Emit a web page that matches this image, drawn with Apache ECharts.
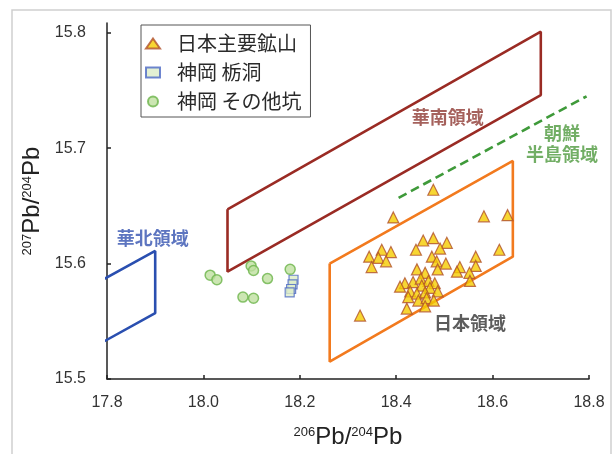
<!DOCTYPE html>
<html>
<head>
<meta charset="utf-8">
<script src="https://cdn.jsdelivr.net/npm/echarts@6/dist/echarts.min.js"></script>
<style>
	html, body { margin: 0; padding: 0; background: #fff; }
	#chart { width: 613px; height: 454px; }
</style>
</head>
<body>
<div id="chart"></div>
<script>
	// 日本主要鉱山 (x = 206Pb/204Pb, y = 207Pb/204Pb)
	var japanMines = [
		[18.477, 15.664], [18.394, 15.640], [18.582, 15.641], [18.631, 15.642],
		[18.456, 15.620], [18.477, 15.622], [18.505, 15.618], [18.441, 15.612],
		[18.491, 15.613], [18.370, 15.612], [18.389, 15.610], [18.344, 15.606],
		[18.363, 15.605], [18.379, 15.602], [18.349, 15.597], [18.474, 15.606],
		[18.614, 15.612], [18.565, 15.606], [18.484, 15.602], [18.503, 15.600],
		[18.565, 15.598], [18.486, 15.595], [18.443, 15.595], [18.532, 15.597],
		[18.526, 15.593], [18.460, 15.592], [18.552, 15.592], [18.553, 15.585],
		[18.418, 15.583], [18.408, 15.580], [18.435, 15.584], [18.451, 15.587],
		[18.467, 15.585], [18.480, 15.583], [18.453, 15.581], [18.470, 15.579],
		[18.429, 15.576], [18.443, 15.574], [18.460, 15.575], [18.486, 15.576],
		[18.425, 15.571], [18.446, 15.568], [18.463, 15.570], [18.478, 15.568],
		[18.422, 15.561], [18.460, 15.563], [18.325, 15.555]
	];
	// 神岡 栃洞
	var kamiokaTochibora = [
		[18.187, 15.586], [18.185, 15.582], [18.182, 15.578], [18.179, 15.575]
	];
	// 神岡 その他坑
	var kamiokaOther = [
		[18.014, 15.590], [18.028, 15.586], [18.099, 15.598], [18.104, 15.594],
		[18.133, 15.587], [18.180, 15.595], [18.082, 15.571], [18.104, 15.570]
	];

	// 領域の枠
	var northChina = [[17.70, 15.565], [17.90, 15.611], [17.90, 15.557], [17.70, 15.511]];
	var southChina = [[18.05, 15.647], [18.70, 15.801], [18.70, 15.746], [18.05, 15.593], [18.05, 15.647]];
	var japanField = [[18.262, 15.600], [18.642, 15.689], [18.642, 15.606], [18.262, 15.515], [18.262, 15.600]];
	var koreaLine = [[18.405, 15.657], [18.795, 15.745]];

	// 領域名
	var regionLabels = [
		{ name: '華北領域', value: [17.895, 15.622], color: '#3552b0' },
		{ name: '華南領域', value: [18.507, 15.727], color: '#8e3a33' },
		{ name: '朝鮮\n半島領域', value: [18.744, 15.704], color: '#4f9a3f' },
		{ name: '日本領域', value: [18.553, 15.548], color: '#333333' }
	];

	var xTicks = [17.8, 18.0, 18.2, 18.4, 18.6, 18.8];
	var yTicks = [15.5, 15.6, 15.7, 15.8];

	var cjk = '"Noto Sans CJK JP", "Noto Sans CJK SC", sans-serif';
	var latin = '"Liberation Sans", Arial, sans-serif';

	function outline(name, data, color, type){
		return {
			name: name,
			type: 'line',
			data: data,
			symbol: 'none',
			silent: true,
			clip: true,
			z: 1,
			lineStyle: { color: color, width: 2.6, type: type || 'solid' }
		};
	}

	function drawChart(){
		var chart = echarts.init(document.getElementById('chart'));
		chart.setOption({
			animation: false,
			backgroundColor: '#fff',
			graphic: [{
				type: 'rect',
				shape: { x: 12, y: 10, width: 599, height: 460 },
				style: { fill: 'none', stroke: '#cfcfcf', lineWidth: 1.5 },
				silent: true
			}],
			grid: { left: 107, right: 24, top: 23, bottom: 71 },
			legend: {
				orient: 'vertical',
				left: 141,
				top: 25,
				padding: [8, 9, 5, 4],
				itemGap: 8,
				itemWidth: 14,
				itemHeight: 10,
				borderColor: '#555',
				borderWidth: 1,
				backgroundColor: '#fff',
				textStyle: { fontFamily: cjk, fontSize: 20, color: '#2a2a2a', padding: [0, 0, 0, 12], lineHeight: 21 },
				data: ['日本主要鉱山', '神岡 栃洞', '神岡 その他坑']
			},
			xAxis: {
				type: 'value',
				min: 17.8,
				max: 18.8,
				interval: 0.2,
				splitLine: { show: false },
				axisLine: { lineStyle: { color: '#222', width: 1.5 } },
				axisTick: { inside: true, length: 4, customValues: xTicks, lineStyle: { color: '#222', width: 1.5 } },
				axisLabel: {
					customValues: xTicks,
					margin: 16,
					color: '#333',
					fontFamily: latin,
					fontSize: 16,
					formatter: function(v){ return v.toFixed(1); }
				},
				name: '{s|206}{p|Pb/}{s|204}{p|Pb}',
				nameLocation: 'middle',
				nameGap: 46,
				nameTextStyle: {
					rich: {
						s: { fontFamily: latin, fontSize: 13, color: '#222', padding: [0, 0, 9, 0] },
						p: { fontFamily: latin, fontSize: 24, color: '#222' }
					}
				}
			},
			yAxis: {
				type: 'value',
				min: 15.5,
				max: 15.8085,
				interval: 0.1,
				splitLine: { show: false },
				axisLine: { lineStyle: { color: '#222', width: 1.5 } },
				axisTick: { inside: true, length: 4, customValues: yTicks, lineStyle: { color: '#222', width: 1.5 } },
				axisLabel: {
					customValues: yTicks,
					margin: 21,
					color: '#333',
					fontFamily: latin,
					fontSize: 16,
					formatter: function(v){ return v.toFixed(1); }
				},
				name: '{s|207}{p|Pb/}{s|204}{p|Pb}',
				nameLocation: 'middle',
				nameGap: 61,
				nameRotate: 90,
				nameTextStyle: {
					rich: {
						s: { fontFamily: latin, fontSize: 13, color: '#222', padding: [0, 0, 9, 0] },
						p: { fontFamily: latin, fontSize: 24, color: '#222' }
					}
				}
			},
			series: [
				outline('華北', northChina, '#2a4fb0'),
				outline('華南', southChina, '#9a2b24'),
				outline('日本', japanField, '#f27a1e'),
				outline('朝鮮半島', koreaLine, '#3f9a3a', [9, 5]),
				{
					name: '日本主要鉱山',
					type: 'scatter',
					data: japanMines,
					symbol: 'triangle',
					symbolSize: 11,
					z: 3,
					itemStyle: { color: '#f5cc00', borderColor: '#b0502a', borderWidth: 1.2 }
				},
				{
					name: '神岡 栃洞',
					type: 'scatter',
					data: kamiokaTochibora,
					symbol: 'rect',
					symbolSize: 9,
					z: 3,
					itemStyle: { color: '#dcecc8', borderColor: '#4a66c4', borderWidth: 1.2 }
				},
				{
					name: '神岡 その他坑',
					type: 'scatter',
					data: kamiokaOther,
					symbol: 'circle',
					symbolSize: 10,
					z: 3,
					itemStyle: { color: '#bfe0a0', borderColor: '#6cb44a', borderWidth: 1.5 }
				},
				{
					name: 'labels',
					type: 'scatter',
					symbolSize: 0,
					silent: true,
					z: 4,
					data: regionLabels.map(function(r){
						return {
							name: r.name,
							value: r.value,
							label: { color: r.color }
						};
					}),
					label: {
						show: true,
						position: 'inside',
						formatter: '{b}',
						fontFamily: cjk,
						fontWeight: 'bold',
						fontSize: 18,
						lineHeight: 21,
						align: 'center'
					}
				}
			]
		});
	}

	drawChart();
</script>
</body>
</html>
